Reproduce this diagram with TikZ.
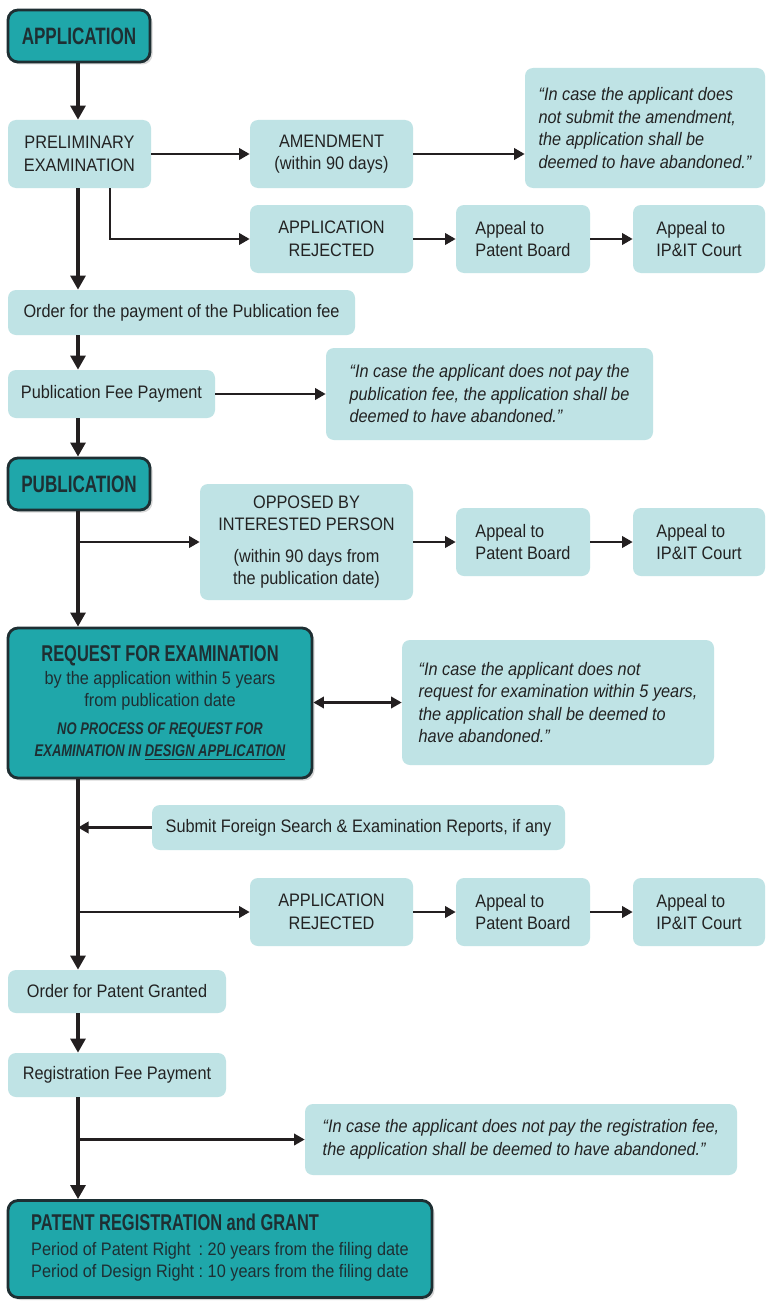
\documentclass[tikz,border=0pt]{standalone}
\usepackage{fontspec}
\setmainfont{Liberation Sans}[FakeStretch=0.9]
\newfontfamily\condfont{Liberation Sans}[FakeStretch=0.72]
\newfontfamily\condfontb{Liberation Sans}[FakeStretch=0.77]
\usetikzlibrary{arrows.meta,calc,shadows}
\definecolor{lightc}{HTML}{BFE3E5}
\definecolor{darkc}{HTML}{1FA7AA}
\definecolor{bordc}{HTML}{1E2F33}
\definecolor{txt}{HTML}{222222}
\definecolor{linec}{HTML}{231F20}
\newcommand{\regf}{\fontsize{10.3}{12.8}\selectfont}
\newcommand{\ttlf}{\condfont\bfseries\fontsize{13.5}{15}\selectfont}
\newcommand{\ttlr}{\condfont\bfseries\fontsize{13}{15}\selectfont}
\newcommand{\nbf}{\condfontb\bfseries\itshape\fontsize{9.6}{11.8}\selectfont}
\begin{document}
\begin{tikzpicture}[x=0.02cm,y=-0.02cm,
  sz/.style 2 args={minimum width=#1*0.02cm, minimum height=#2*0.02cm},
  lbox/.style={rounded corners=0.16cm, fill=lightc, text=txt, font=\regf, align=center, inner sep=0pt},
  lboxl/.style={lbox, align=left},
  qbox/.style={lbox, align=left, font=\regf\itshape},
  dbox/.style={rounded corners=0.2cm, fill=darkc, draw=bordc, line width=1.6pt, text=bordc, font=\ttlf, inner sep=0pt,
     drop shadow={shadow xshift=0.05cm, shadow yshift=-0.05cm, opacity=0.3}},
  arr/.style={line width=1.8pt, draw=linec, -{Triangle[length=8pt,width=8.5pt]}},
  sarr/.style={line width=1.3pt, draw=linec, -{Triangle[length=6pt,width=6.5pt]}},
  darr/.style={line width=1.3pt, draw=linec, {Triangle[length=6pt,width=6.5pt]}-{Triangle[length=6pt,width=6.5pt]}},
]
\useasboundingbox (0,0) rectangle (767,1301);
\fill[white] (0,0) rectangle (767,1301);

% nodes
\node[dbox,sz={142}{52}] (app) at (79,36) {APPLICATION};
\node[lbox,sz={143}{68}] (prelim) at (79.5,154) {PRELIMINARY\\EXAMINATION};
\node[lbox,sz={163}{68}] (amend) at (331.5,154) {AMENDMENT\\(within 90 days)};
\node[qbox,sz={240}{120}] (q1) at (645,128) {“In case the applicant does\\not submit the amendment,\\the application shall be\\deemed to have abandoned.”};
\node[lbox,sz={163}{68}] (rej1) at (331.5,239) {APPLICATION\\REJECTED};
\node[lboxl,sz={134}{68}] (pb1) at (523,239) {Appeal to\\Patent Board};
\node[lboxl,sz={132}{68}] (ip1) at (699,239) {Appeal to\\IP\&IT Court};
\node[lbox,sz={347}{45}] (order) at (181.5,312.5) {Order for the payment of the Publication fee};
\node[lbox,sz={207}{48}] (pubfee) at (111.5,394) {Publication Fee Payment};
\node[qbox,sz={327}{92}] (q2) at (489.5,394) {“In case the applicant does not pay the\\publication fee, the application shall be\\deemed to have abandoned.”};
\node[dbox,sz={142}{52}] (pub) at (79,484) {PUBLICATION};
\node[lbox,sz={213}{116}] (opp) at (306.5,542) {OPPOSED BY\\INTERESTED PERSON\\[5pt](within 90 days from\\the publication date)};
\node[lboxl,sz={134}{68}] (pb2) at (523,542) {Appeal to\\Patent Board};
\node[lboxl,sz={132}{68}] (ip2) at (699,542) {Appeal to\\IP\&IT Court};
\node[dbox,sz={304}{150},align=center,font=\regf] (req) at (160,703)
  {{\ttlr REQUEST FOR EXAMINATION}\\by the application within 5 years\\from publication date\\[3pt]{\nbf NO PROCESS OF REQUEST FOR}\\{\nbf EXAMINATION IN \underline{DESIGN APPLICATION}}};
\node[qbox,sz={312}{125}] (q3) at (558,702.5) {“In case the applicant does not\\request for examination within 5 years,\\the application shall be deemed to\\have abandoned.”};
\node[lbox,sz={413}{45}] (foreign) at (358.5,827.5) {Submit Foreign Search \& Examination Reports, if any};
\node[lbox,sz={163}{68}] (rej2) at (331.5,912) {APPLICATION\\REJECTED};
\node[lboxl,sz={134}{68}] (pb3) at (523,912) {Appeal to\\Patent Board};
\node[lboxl,sz={132}{68}] (ip3) at (699,912) {Appeal to\\IP\&IT Court};
\node[lbox,sz={218}{43}] (granted) at (117,991.5) {Order for Patent Granted};
\node[lbox,sz={218}{44}] (regfee) at (117,1075) {Registration Fee Payment};
\node[qbox,sz={432}{71}] (q4) at (521,1139.5) {“In case the applicant does not pay the registration fee,\\the application shall be deemed to have abandoned.”};
\node[dbox,sz={424}{97},align=left,font=\regf] (final) at (220,1249)
  {{\ttlr PATENT REGISTRATION and GRANT}\\[4pt]
   \begin{tabular}{@{}l@{\ :\ }l@{}}
   Period of Patent Right & 20 years from the filing date\\[0pt]
   Period of Design Right & 10 years from the filing date
   \end{tabular}};

% main spine coordinate
\coordinate (main) at (78,0);

% connectors
\draw[arr] (app.south -| main) -- (prelim.north -| main);
\draw[sarr] (prelim.east) -- (amend.west);
\draw[sarr] (amend.east) -- (amend.east -| q1.west);
\draw[arr] (prelim.south -| main) -- (order.north -| main);
\draw[sarr] ($(prelim.south -| main)+(32,0)$) |- (rej1.west);
\draw[sarr] (rej1.east) -- (pb1.west);
\draw[sarr] (pb1.east) -- (ip1.west);
\draw[arr] (order.south -| main) -- (pubfee.north -| main);
\draw[sarr] (pubfee.east) -- (q2.west);
\draw[arr] (pubfee.south -| main) -- (pub.north -| main);
\draw[arr] (pub.south -| main) -- (req.north -| main);
\draw[sarr] (opp.west -| main) -- (opp.west);
\draw[sarr] (opp.east) -- (pb2.west);
\draw[sarr] (pb2.east) -- (ip2.west);
\draw[darr] (req.east |- q3.west) -- (q3.west);
\draw[arr] (req.south -| main) -- (granted.north -| main);
\draw[sarr] (foreign.west) -- (foreign.west -| main);
\draw[sarr] (rej2.west -| main) -- (rej2.west);
\draw[sarr] (rej2.east) -- (pb3.west);
\draw[sarr] (pb3.east) -- (ip3.west);
\draw[arr] (granted.south -| main) -- (regfee.north -| main);
\draw[arr] (regfee.south -| main) -- (final.north -| main);
\draw[sarr] (q4.west -| main) -- (q4.west);
\end{tikzpicture}
\end{document}
